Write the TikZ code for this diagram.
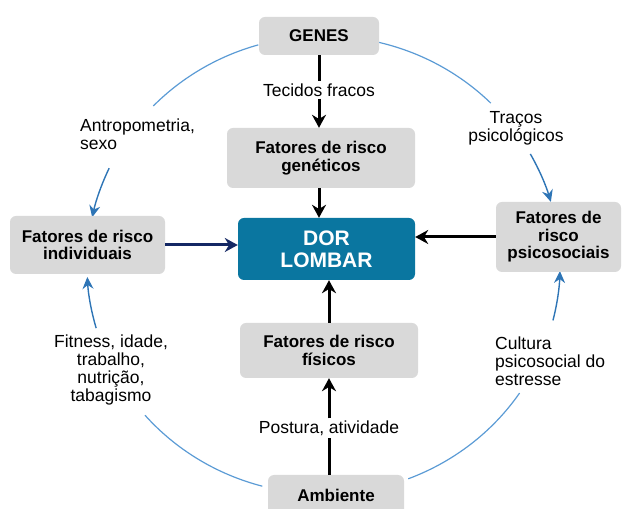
\documentclass[tikz,border=0pt]{standalone}
\usepackage{fontspec}
\setmainfont{Liberation Sans}
\usetikzlibrary{arrows.meta}

\definecolor{boxgray}{RGB}{217,217,217}
\definecolor{dorblue}{RGB}{10,118,160}
\definecolor{ringblue}{RGB}{91,155,213}
\definecolor{tipblue}{RGB}{46,117,182}
\definecolor{navyblue}{RGB}{20,40,100}

\begin{document}
\begin{tikzpicture}[->,>={Stealth[length=13pt,width=14pt]},x=1pt,y=1pt,
    box/.style={rectangle, rounded corners=6pt, fill=boxgray},
    boxtext/.style={font=\fontsize{17}{17.5}\selectfont\bfseries, align=center},
    note/.style={font=\fontsize{17.5}{18}\selectfont, inner sep=2pt},
    ring/.style={-, draw=ringblue, line width=1.2pt},
    ringarrow/.style={-{Stealth[length=12pt,width=11pt,inset=4pt]}, draw=tipblue, line width=1.4pt}
    ]

    \useasboundingbox (0,0) rectangle (622,509);

    \coordinate (ctr) at (323.5,244);

    %blue ring
    \path (ctr) ++(106:236.5pt and 229pt) coordinate (r1)
          (ctr) ++(155:236.5pt and 229pt) coordinate (r2)
          (ctr) ++(196:236.5pt and 229pt) coordinate (r3)
          (ctr) ++(221:236.5pt and 229pt) coordinate (r4)
          (ctr) ++(291:236.5pt and 229pt) coordinate (r5)
          (ctr) ++(346:236.5pt and 229pt) coordinate (r6)
          (ctr) ++(29:236.5pt and 229pt) coordinate (r7)
          (ctr) ++(45:236.5pt and 229pt) coordinate (r8);

    \draw[ring] (r1) arc[start angle=106, end angle=136, x radius=236.5pt, y radius=229pt];
    \draw[ringarrow] (r2) arc[start angle=155, end angle=168, x radius=236.5pt, y radius=229pt];
    \draw[ringarrow] (r3) arc[start angle=196, end angle=183, x radius=236.5pt, y radius=229pt];
    \draw[ring] (r4) arc[start angle=221, end angle=255, x radius=236.5pt, y radius=229pt];
    \draw[ring] (r5) arc[start angle=291, end angle=326, x radius=236.5pt, y radius=229pt];
    \draw[ringarrow] (r6) arc[start angle=346, end angle=358.5, x radius=236.5pt, y radius=229pt];
    \draw[ringarrow] (r7) arc[start angle=29, end angle=16, x radius=236.5pt, y radius=229pt];
    \draw[ring] (r8) arc[start angle=45, end angle=77, x radius=236.5pt, y radius=229pt];

    \node[box,
          minimum width = 120pt,
          minimum height = 38pt
          ] (genes) at (319,473) {};
    \node[boxtext] (genes-t) at (genes.center) {GENES};

    \node[box,
          minimum width = 188pt,
          minimum height = 60pt
          ] (gen) at (321,351) {};
    \node[boxtext] (gen-t) at (gen.center) {Fatores de risco\\genéticos};

    \node[rectangle,
          rounded corners = 6pt,
          fill = dorblue,
          minimum width = 177pt,
          minimum height = 62pt
          ] (dor) at (326.5,260) {};
    \node[boxtext,
          text = white,
          font = \fontsize{21}{22}\selectfont\bfseries
          ] (dor-t) at (dor.center) {DOR\\LOMBAR};

    \node[box,
          minimum width = 155pt,
          minimum height = 58pt
          ] (ind) at (87.5,264) {};
    \node[boxtext] (ind-t) at (ind.center) {Fatores de risco\\individuais};

    \node[box,
          minimum width = 125pt,
          minimum height = 70pt
          ] (psi) at (558.5,272) {};
    \node[boxtext] (psi-t) at (psi.center) {Fatores de\\risco\\psicosociais};

    \node[box,
          minimum width = 178pt,
          minimum height = 55pt
          ] (fis) at (329,158.5) {};
    \node[boxtext] (fis-t) at (fis.center) {Fatores de risco\\físicos};

    \node[box,
          minimum width = 136pt,
          minimum height = 40pt
          ] (amb) at (336,14) {};
    \node[boxtext] (amb-t) at (amb.center) {Ambiente};

    \node[note] (tec) at (319,419) {Tecidos fracos};
    \node[note, anchor = west, align = left] (antro) at (78,375) {Antropometria,\\sexo};
    \node[note, align = center] (tracos) at (516,381) {Traços\\psicológicos};
    \node[note, align = center] (fit) at (111,139) {Fitness, idade,\\trabalho,\\nutrição,\\tabagismo};
    \node[note, anchor = west, align = left] (cult) at (493,148) {Cultura\\psicosocial do\\estresse};
    \node[note] (post) at (329,81) {Postura, atividade};

    \path[line width = 3pt]
    %black arrows
    (genes) edge [-] (tec)
    (tec) edge [] (tec |- gen.north)
    (tec |- gen.south) edge [] (tec |- dor.north)
    (ind) edge [draw = navyblue] (ind -| dor.west)
    (psi) edge [] (psi -| dor.east)
    (fis) edge [] (fis |- dor.south)
    (post |- amb.north) edge [-] (post)
    (post) edge [] (post |- fis.south);

\end{tikzpicture}
\end{document}
